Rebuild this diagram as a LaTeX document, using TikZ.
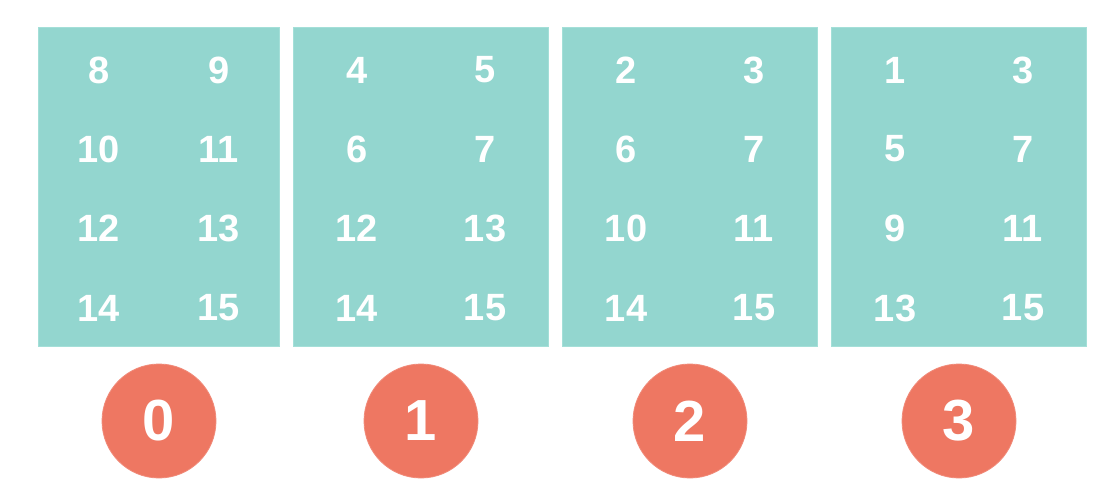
\documentclass[tikz,border=0pt]{standalone}
\usepackage{fontspec}
\setmainfont{Liberation Sans}
\definecolor{teal}{HTML}{93D6CF}
\definecolor{tealedge}{HTML}{A4DFD8}
\definecolor{coral}{HTML}{EE7762}
\begin{document}
\begin{tikzpicture}[x=1pt,y=-1pt,
  blockbox/.style={fill=teal,draw=tealedge,line width=1pt,inner sep=0pt,minimum height=318pt},
  numtxt/.style={text=white,font=\fontsize{38}{38}\selectfont\bfseries,inner sep=0pt},
  procdot/.style={circle,fill=coral,draw=coral!85!white,line width=0.8pt,minimum size=114pt,inner sep=0pt,text=white,font=\fontsize{58}{58}\selectfont\bfseries}]
\useasboundingbox (0,0) rectangle (1116,500);
\fill[white] (0,0) rectangle (1116,500);
\node[blockbox,minimum width=241pt] (b0) at (159,187) {};
\node[blockbox,minimum width=255pt] (b1) at (420.5,187) {};
\node[blockbox,minimum width=255pt] (b2) at (689.5,187) {};
\node[blockbox,minimum width=255pt] (b3) at (958.5,187) {};
% box 0
\node[numtxt] (n0a) at (99,70) {8};   \node[numtxt] (n0b) at (219,70) {9};
\node[numtxt] (n0c) at (99,149) {10}; \node[numtxt] (n0d) at (219,149) {11};
\node[numtxt] (n0e) at (99,228) {12}; \node[numtxt] (n0f) at (219,228) {13};
\node[numtxt] (n0g) at (99,308) {14}; \node[numtxt] (n0h) at (219,308) {15};
% box 1
\node[numtxt] (n1a) at (357,70) {4};  \node[numtxt] (n1b) at (485,70) {5};
\node[numtxt] (n1c) at (357,149) {6}; \node[numtxt] (n1d) at (485,149) {7};
\node[numtxt] (n1e) at (357,228) {12};\node[numtxt] (n1f) at (485,228) {13};
\node[numtxt] (n1g) at (357,308) {14};\node[numtxt] (n1h) at (485,308) {15};
% box 2
\node[numtxt] (n2a) at (626,70) {2};  \node[numtxt] (n2b) at (754,70) {3};
\node[numtxt] (n2c) at (626,149) {6}; \node[numtxt] (n2d) at (754,149) {7};
\node[numtxt] (n2e) at (626,228) {10};\node[numtxt] (n2f) at (754,228) {11};
\node[numtxt] (n2g) at (626,308) {14};\node[numtxt] (n2h) at (754,308) {15};
% box 3
\node[numtxt] (n3a) at (895,70) {1};  \node[numtxt] (n3b) at (1023,70) {3};
\node[numtxt] (n3c) at (895,149) {5}; \node[numtxt] (n3d) at (1023,149) {7};
\node[numtxt] (n3e) at (895,228) {9}; \node[numtxt] (n3f) at (1023,228) {11};
\node[numtxt] (n3g) at (895,308) {13};\node[numtxt] (n3h) at (1023,308) {15};
% circles
\node[procdot] (p0) at (159,421) {0};
\node[procdot] (p1) at (421,421) {1};
\node[procdot] (p2) at (690,421) {2};
\node[procdot] (p3) at (959,421) {3};
\end{tikzpicture}
\end{document}
